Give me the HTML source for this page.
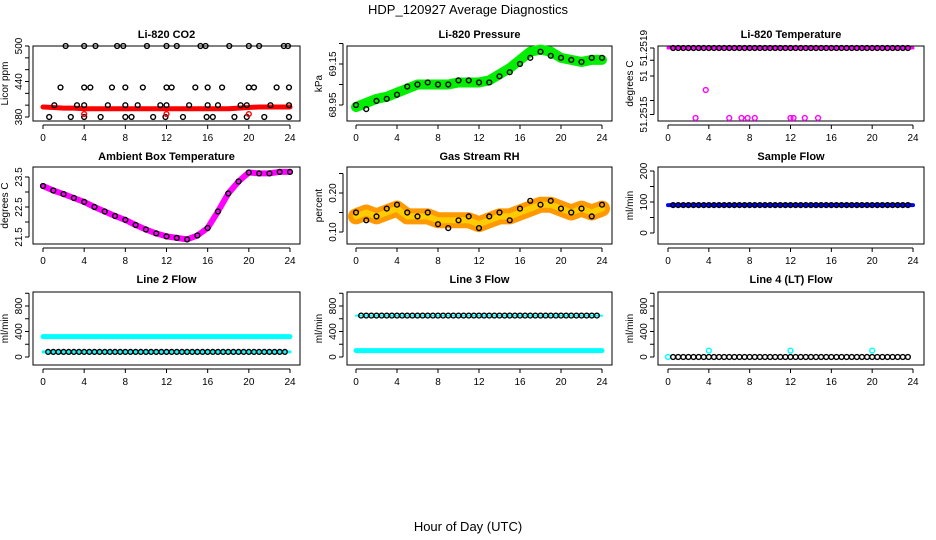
<!DOCTYPE html>
<html><head><meta charset="utf-8"><style>
body{margin:0;background:#fff;}
svg{display:block;font-family:"Liberation Sans",sans-serif;}
</style></head><body>
<svg id="c" width="936" height="540" xmlns="http://www.w3.org/2000/svg">
<text x="468" y="14" text-anchor="middle" font-size="13">HDP_120927  Average Diagnostics</text>
<text x="468" y="531" text-anchor="middle" font-size="13">Hour of Day (UTC)</text>
</svg>
<script>
const hours = [0,1,2,3,4,5,6,7,8,9,10,11,12,13,14,15,16,17,18,19,20,21,22,23,24];
const xTicks = [0,4,8,12,16,20,24];
const co2Band = [397,396,395,395,394,394,394,394,394,394,394,394,394,394,394,394,394,394,394,395,396,397,397,397,397];
const co2Hi = [2.2,4,5.1,7.2,7.8,10.1,12,13,15.3,15.8,18.1,20,21,23.4,23.8];
const co2Mid = [1.7,4,4.6,6.7,8,9.7,12,12.5,14.8,16,17.4,20,20.5,22.7,23.9];
const co2Low = [1.1,3.3,4,6.3,8,9.2,11.4,12,14.2,16,17,19.2,19.8,22.1,23.9];
const co2Min = [0.6,2.7,4,5.6,8,8.6,10.7,11.9,13.6,15.9,16.5,18.6,19.8,21.5,23.9];
const co2Red = [4,12,20];
const presBand = [68.94,68.96,68.98,68.99,69.01,69.03,69.05,69.05,69.05,69.05,69.06,69.06,69.06,69.07,69.10,69.13,69.17,69.21,69.22,69.21,69.18,69.17,69.16,69.17,69.17];
const presPts = [68.95,68.93,68.97,68.98,69.00,69.04,69.05,69.06,69.05,69.05,69.07,69.07,69.06,69.06,69.09,69.11,69.15,69.18,69.21,69.19,69.18,69.17,69.16,69.18,69.18];
const tempOutLow = [2.7,6,7.2,7.8,8.5,12,12.3,13.4,14.7];
const tempOutMid = [3.7];
const ambBand = [23.2,23.05,22.93,22.8,22.67,22.5,22.35,22.2,22.07,21.9,21.75,21.62,21.52,21.47,21.42,21.55,21.8,22.35,22.95,23.35,23.65,23.62,23.62,23.67,23.67];
const rhBand = [0.14,0.15,0.14,0.15,0.16,0.14,0.14,0.14,0.13,0.13,0.13,0.13,0.12,0.13,0.14,0.14,0.15,0.16,0.17,0.17,0.16,0.15,0.16,0.15,0.16];
const rhPts = [0.15,0.13,0.14,0.16,0.17,0.15,0.14,0.15,0.12,0.11,0.13,0.14,0.11,0.14,0.15,0.13,0.16,0.18,0.17,0.18,0.16,0.15,0.16,0.14,0.17];
const sampleFlow = 90;
const line2Hi = 320, line2Lo = 80;
const line3Hi = 650, line3Lo = 100;
const line4Base = 0, line4Out = 100;
const line4OutHours = [4,12,20];

const svg = document.getElementById('c');
const NS = 'http://www.w3.org/2000/svg';
function mk(tag, attrs, parent){const e=document.createElementNS(NS,tag);for(const k in attrs)e.setAttribute(k,attrs[k]);(parent||svg).appendChild(e);return e;}
const cols=[{bx0:33,bx1:300,x0:43,x1:290},{bx0:347,bx1:612,x0:356,x1:602},{bx0:658,bx1:924,x0:668,x1:913}];
const rows=[{by0:46,by1:121,ty:38},{by0:167,by1:244,ty:160},{by0:292,by1:365,ty:283}];

function panel(ci,ri,title,ylab,v0,p0,v1,p1,ticks,labels,name){
  const c=cols[ci],r=rows[ri];
  const g=mk('g',{});
  
  
  const X=h=>c.x0+(c.x1-c.x0)*h/24;
  const Y=v=>p0+(p1-p0)*(v-v0)/(v1-v0);
  const t=mk('text',{x:(c.bx0+c.bx1)/2,y:r.ty,'text-anchor':'middle','font-size':11,'font-weight':'bold'},g);
  t.textContent=title;
  
  
  const b=mk('rect',{x:c.bx0,y:r.by0,width:c.bx1-c.bx0,height:r.by1-r.by0,fill:'none',stroke:'#000','stroke-width':1},g);
  
  
  const xa=mk('g',{},g);
  
  
  mk('line',{x1:X(0),x2:X(24),y1:r.by1+4,y2:r.by1+4,stroke:'#000'},xa);
  xTicks.forEach(h=>{mk('line',{x1:X(h),x2:X(h),y1:r.by1+4,y2:r.by1+8,stroke:'#000'},xa);
    const l=mk('text',{x:X(h),y:r.by1+20,'text-anchor':'middle','font-size':10},xa);l.textContent=h;});
  const ya=mk('g',{},g);
  
  
  const ys=ticks.map(Y);
  mk('line',{x1:c.bx0-4,x2:c.bx0-4,y1:Math.min(...ys),y2:Math.max(...ys),stroke:'#000'},ya);
  ticks.forEach((v,i)=>{const y=Y(v);mk('line',{x1:c.bx0-8,x2:c.bx0-4,y1:y,y2:y,stroke:'#000'},ya);
    if(labels[i]!==''){const l=mk('text',{x:c.bx0-11,y:y,'text-anchor':'middle','font-size':10,transform:`rotate(-90 ${c.bx0-11} ${y})`},ya);l.textContent=labels[i];}});
  const yl=mk('text',{x:c.bx0-25,y:(r.by0+r.by1)/2,'text-anchor':'middle','font-size':10,transform:`rotate(-90 ${c.bx0-25} ${(r.by0+r.by1)/2})`},g);
  yl.textContent=ylab;
  
  
  return {g,X,Y};
}
function band(p,vals,color,w,name){
  const d=vals.map((v,i)=>(i?'L':'M')+p.X(hours[i])+' '+p.Y(v)).join(' ');
  const e=mk('path',{d:d,fill:'none',stroke:color,'stroke-width':w,'stroke-linejoin':'round','stroke-linecap':'round'},p.g);
  
  
}
function pt(p,h,v,color,name,r){
  const e=mk('circle',{cx:p.X(h),cy:p.Y(v),r:r||2.4,fill:'none',stroke:color,'stroke-width':1.4},p.g);
  
  
}
function series(p,arr,color,name){arr.forEach((v,i)=>pt(p,hours[i],v,color,name));}
function hline(p,v,color,w,name){band(p,hours.map(()=>v),color,w,name);}
function dense(p,v,color,name){for(let h=0.5;h<24;h+=0.5)pt(p,h,v,color,name);}

// CO2
let p=panel(0,0,'Li-820 CO2','Licor ppm',380,117,500,46,[380,400,420,440,460,480,500],['380','','','440','','','500'],'co2');
band(p,co2Band,'#ff0000',5,'co2-series');
co2Hi.forEach(h=>pt(p,h,500,'#000','co2-point'));
co2Mid.forEach(h=>pt(p,h,430,'#000','co2-point'));
co2Low.forEach(h=>pt(p,h,400,'#000','co2-point'));
co2Min.forEach(h=>pt(p,h,380,'#000','co2-point'));
co2Red.forEach(h=>pt(p,h,385,'#ff0000','co2-outlier'));
// Pressure
p=panel(1,0,'Li-820 Pressure','kPa',68.95,105,69.15,64,[68.95,69.05,69.15,69.25],['68.95','','69.15',''],'pressure');
band(p,presBand,'#00ee00',10,'pressure-series');
series(p,presPts,'#000','pressure-point');
// Temperature
p=panel(2,0,'Li-820 Temperature','degrees C',51.2515,118,51.2519,48,[51.2519,51.25183,51.25174,51.2516,51.25152],['51.2519','','51','','51.2515'],'li820-temp');
hline(p,51.2519,'#ff00ff',3,'li820-temp-series');
dense(p,51.2519,'#000','li820-temp-point');
tempOutLow.forEach(h=>pt(p,h,51.2515,'#ff00ff','li820-temp-outlier'));
tempOutMid.forEach(h=>pt(p,h,51.25166,'#ff00ff','li820-temp-outlier'));
// Ambient
p=panel(0,1,'Ambient Box Temperature','degrees C',21.5,237,23.5,177,[21.5,22,22.5,23,23.5],['21.5','','22.5','','23.5'],'ambient-temp');
band(p,ambBand,'#ff00ff',6,'ambient-temp-series');
series(p,ambBand,'#000','ambient-temp-point');
// RH
p=panel(1,1,'Gas Stream RH','percent',0.10,232,0.20,193,[0.10,0.15,0.20,0.25],['0.10','','0.20',''],'rh');
band(p,rhBand,'#ff9900',16,'rh-series');
band(p,rhBand,'#ffcc00',6,'rh-series-core');
series(p,rhPts,'#000','rh-point');
// Sample flow
p=panel(2,1,'Sample Flow','ml/min',0,233,200,171,[0,50,100,150,200],['0','','100','','200'],'sample-flow');
hline(p,sampleFlow,'#0000ff',4,'sample-flow-series');
dense(p,sampleFlow,'#000','sample-flow-point');
// Line 2
const fT=[0,200,400,600,800,1000],fL=['0','','400','','800',''];
p=panel(0,2,'Line 2 Flow','ml/min',0,357,800,306,fT,fL,'line2-flow');
hline(p,line2Hi,'#00ffff',5,'line2-flow-high');
hline(p,line2Lo,'#00ffff',3,'line2-flow-low');
dense(p,line2Lo,'#000','line2-flow-point');
// Line 3
p=panel(1,2,'Line 3 Flow','ml/min',0,357,800,306,fT,fL,'line3-flow');
hline(p,line3Lo,'#00ffff',5,'line3-flow-low');
hline(p,line3Hi,'#00ffff',2,'line3-flow-high');
dense(p,line3Hi,'#000','line3-flow-point');
// Line 4
p=panel(2,2,'Line 4 (LT) Flow','ml/min',0,357,800,306,fT,fL,'line4-flow');
pt(p,0,line4Base,'#00ffff','line4-flow-point');
dense(p,line4Base,'#000','line4-flow-point');
line4OutHours.forEach(h=>pt(p,h,line4Out,'#00ffff','line4-flow-outlier'));
</script>
</body></html>
